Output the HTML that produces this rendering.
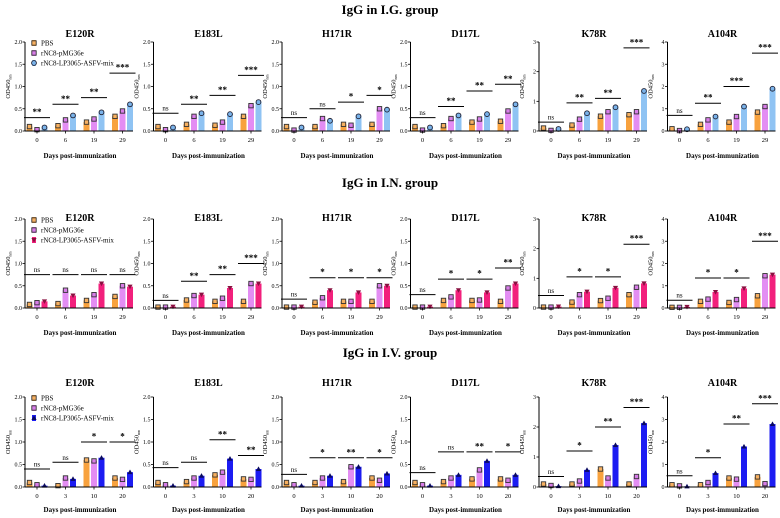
<!DOCTYPE html>
<html><head><meta charset="utf-8">
<style>
body{margin:0;background:#fff;}
svg{display:block;font-family:"Liberation Serif",serif;}
</style></head>
<body>
<svg id="fig" width="780" height="518" viewBox="0 0 780 518" xmlns="http://www.w3.org/2000/svg"></svg>
<script>
const panelNames = ["E120R","E183L","H171R","D117L","K78R","A104R"];
const panelMax = [2,2,2,2,3,4];
const rowTitles = ["IgG in I.G. group","IgG in I.N. group","IgG in I.V. group"];
const rowDays = [["0","6","19","29"],["0","6","19","29"],["0","3","10","20"]];
const seriesNames = ["PBS","rNC8-pMG36e","rNC8-LP3065-ASFV-mix"];
const tick2 = ["0.0","0.5","1.0","1.5","2.0"];
const tick3 = ["0","1","2","3"];
const tick4 = ["0","1","2","3","4"];

// Row 1: I.G.
const igPBS = [[0.1,0.12,0.2,0.33],[0.1,0.15,0.13,0.33],[0.1,0.1,0.15,0.15],[0.1,0.12,0.2,0.22],[0.1,0.2,0.5,0.55],[0.1,0.3,0.4,0.85]];
const igPMG = [[0.03,0.25,0.27,0.45],[0.03,0.33,0.2,0.57],[0.02,0.28,0.13,0.5],[0.02,0.28,0.27,0.45],[0.02,0.4,0.65,0.65],[0.02,0.5,0.65,1.1]];
const igMIX = [[0.08,0.35,0.42,0.6],[0.08,0.4,0.38,0.65],[0.08,0.23,0.33,0.48],[0.08,0.35,0.38,0.6],[0.07,0.6,0.8,1.35],[0.08,0.65,1.1,1.9]];
const igSig = [["**","**","**","***"],["ns","**","**","***"],["ns","ns","*","*"],["ns","**","**","**"],["ns","**","**","***"],["ns","**","***","***"]];
const igSigY = [[0.3,0.6,0.75,1.3],[0.4,0.6,0.8,1.25],[0.3,0.5,0.65,0.8],[0.3,0.55,0.9,1.05],[0.3,0.95,1.1,2.8],[0.7,1.25,2.0,3.5]];
// Row 2: I.N.
const inPBS = [[0.08,0.1,0.17,0.26],[0.02,0.18,0.15,0.15],[0.02,0.13,0.15,0.15],[0.02,0.17,0.17,0.15],[0.03,0.2,0.25,0.45],[0.03,0.3,0.25,0.55]];
const inPMG = [[0.12,0.4,0.3,0.5],[0.02,0.28,0.22,0.55],[0.02,0.23,0.15,0.5],[0.02,0.25,0.18,0.45],[0.03,0.45,0.33,0.7],[0.03,0.4,0.38,1.45]];
const inMIX = [[0.15,0.28,0.55,0.48],[0.03,0.3,0.45,0.55],[0.03,0.4,0.35,0.5],[0.03,0.4,0.35,0.55],[0.05,0.55,0.68,0.83],[0.05,0.72,0.88,1.5]];
const inSig = [["ns","ns","ns","ns"],["ns","**","**","***"],["ns","*","*","*"],["ns","*","*","**"],["ns","*","*","***"],["ns","*","*","***"]];
const inSigY = [[0.75,0.75,0.75,0.75],[0.17,0.6,0.75,1.0],[0.2,0.68,0.68,0.68],[0.3,0.65,0.65,0.9],[0.42,1.05,1.05,2.15],[0.35,1.35,1.35,3.0]];
// Row 3: I.V.
const ivPBS = [[0.1,0.03,0.6,0.2],[0.1,0.12,0.27,0.18],[0.1,0.1,0.12,0.2],[0.1,0.12,0.18,0.18],[0.1,0.1,0.6,0.1],[0.1,0.1,0.4,0.45]];
const ivPMG = [[0.05,0.2,0.58,0.17],[0.05,0.2,0.33,0.17],[0.05,0.2,0.45,0.15],[0.05,0.2,0.38,0.15],[0.05,0.2,0.3,0.35],[0.05,0.2,0.35,0.15]];
const ivMIX = [[0.03,0.18,0.65,0.33],[0.03,0.25,0.63,0.4],[0.03,0.25,0.45,0.3],[0.03,0.27,0.58,0.27],[0.03,0.57,1.4,2.13],[0.03,0.62,1.8,2.8]];
const ivSig = [["ns","ns","*","*"],["ns","ns","**","**"],["ns","*","**","*"],["ns","ns","**","*"],["ns","*","**","***"],["ns","*","**","***"]];
const ivSigY = [[0.4,0.55,1.0,1.0],[0.43,0.55,1.05,0.7],[0.28,0.65,0.65,0.65],[0.32,0.78,0.78,0.78],[0.35,1.2,2.0,2.65],[0.5,1.3,2.8,3.7]];

const rowsPBS=[igPBS,inPBS,ivPBS], rowsPMG=[igPMG,inPMG,ivPMG], rowsMIX=[igMIX,inMIX,ivMIX];
const rowsSig=[igSig,inSig,ivSig], rowsSigY=[igSigY,inSigY,ivSigY];

const layout=[
 {gt:14,pt:37,top:42,bot:131,tk:142,xt:158},
 {gt:187,pt:221,top:219,bot:308,tk:319,xt:335},
 {gt:357,pt:386,top:397,bot:487,tk:498,xt:512}];
const mixColors=["#8fc3f3","#f2207c","#1c1cf2"];
const pbsColor="#f8a23e", pmgColor="#e38df3";
const NS="http://www.w3.org/2000/svg";
const svg=document.getElementById('fig');
function mk(tag,attrs,parent,txt){const e=document.createElementNS(NS,tag);for(const k in attrs)e.setAttribute(k,attrs[k]);if(txt!==undefined)e.textContent=txt;(parent||svg).appendChild(e);return e;}
function marker(g,kind,cx,cy,color){
  let e;
  if(kind==="sq") e=mk('rect',{x:cx-2.2,y:cy-2.2,width:4.4,height:4.4,fill:color,stroke:"#333","stroke-width":0.9},g);
  else if(kind==="c") e=mk('circle',{cx:cx,cy:cy,r:2.4,fill:color,stroke:"#223","stroke-width":0.9},g);
  else if(kind==="dn") e=mk('path',{d:`M${cx-2.6},${cy-2} L${cx+2.6},${cy-2} L${cx},${cy+2.6}Z`,fill:"#8a1040"},g);
  else e=mk('path',{d:`M${cx-2.6},${cy+2} L${cx+2.6},${cy+2} L${cx},${cy-2.6}Z`,fill:"#0a0a60"},g);
  
  
}
const mixMarker=["c","dn","up"];
for(let r=0;r<3;r++){
  const L=layout[r];
  const t=mk('text',{x:390,y:L.gt,'text-anchor':'middle','font-size':13,'font-weight':'bold'},svg,rowTitles[r]);
  
  
  for(let p=0;p<6;p++){
    const ax=25+128.5*p, W=108, max=panelMax[p];
    const yS=v=>L.bot-(v/max)*(L.bot-L.top);
    const xS=i=>ax+12+28.5*i;
    const g=mk('g',{});
    
    
    const pt=mk('text',{x:ax+55,y:L.pt,'text-anchor':'middle','font-size':10,'font-weight':'bold'},g,panelNames[p]);
    
    
    const ticks = max===2?tick2:(max===3?tick3:tick4);
    ticks.forEach((tl,i)=>{
      const v=parseFloat(tl), y=yS(v);
      mk('line',{x1:ax-2.5,x2:ax,y1:y,y2:y,stroke:"#000","stroke-width":0.8},g);
      const tt=mk('text',{x:ax-3,y:y+2,'text-anchor':'end','font-size':6},g,tl);
      
      
    });
    const yt=mk('text',{x:0,y:0,transform:`translate(${ax-15},${(L.top+L.bot)/2}) rotate(-90)`,'text-anchor':'middle','font-size':6.5},g);
    yt.innerHTML='OD450<tspan font-size="4" dy="1.5">nm</tspan>';
    
    
    const series=[rowsPBS[r][p],rowsPMG[r][p],rowsMIX[r][p]];
    const cols=[pbsColor,pmgColor,mixColors[r]];
    const mks=["sq","sq",mixMarker[r]];
    for(let i=0;i<4;i++){
      for(let s=0;s<3;s++){
        const v=series[s][i], cx=xS(i)+(s-1)*7.5;
        const b=mk('rect',{x:cx-3,y:yS(v),width:6,height:L.bot-yS(v),fill:cols[s]},g);
        
        
        marker(g,mks[s],cx,yS(v),s===2&&r===0?"#7ab3ea":(s===0?"#f7b060":(s===1?"#d87de8":cols[s])));
      }
      const sy=yS(rowsSigY[r][p][i]);
      mk('line',{x1:xS(i)-13,x2:xS(i)+13,y1:sy,y2:sy,stroke:"#000","stroke-width":1},g);
      const st=mk('text',{x:xS(i),y:sy-2.5,'text-anchor':'middle','font-size':rowsSig[r][p][i]==="ns"?7:9,'font-weight':rowsSig[r][p][i]==="ns"?'normal':'bold'},g,rowsSig[r][p][i]);
      
      
      mk('line',{x1:xS(i),x2:xS(i),y1:L.bot,y2:L.bot+2.5,stroke:"#000","stroke-width":0.8},g);
      const xl=mk('text',{x:xS(i),y:L.tk,'text-anchor':'middle','font-size':6.5},g,rowDays[r][i]);
      
      
    }
    mk('line',{x1:ax,x2:ax,y1:L.top,y2:L.bot,stroke:"#000","stroke-width":1},g);
    mk('line',{x1:ax,x2:ax+W,y1:L.bot,y2:L.bot,stroke:"#000","stroke-width":1},g);
    const xt=mk('text',{x:ax+55,y:L.xt,'text-anchor':'middle','font-size':7,'font-weight':'bold'},g,'Days post-immunization');
    
    
    if(p===0){
      const lg=mk('g',{},g);
      
      
      for(let s=0;s<3;s++){
        const ly=L.top+1+s*10;
        const le=mk('g',{},lg);
        
        
        mk('rect',{x:ax+7,y:ly-3,width:4,height:6,fill:cols[s]},le);
        marker(le,mks[s],ax+9,ly,s===2&&r===0?"#7ab3ea":(s===0?"#f7b060":(s===1?"#d87de8":cols[s])));
        mk('text',{x:ax+16,y:ly+2.5,'font-size':7},le,seriesNames[s]);
      }
    }
  }
}
</script>
</body></html>
